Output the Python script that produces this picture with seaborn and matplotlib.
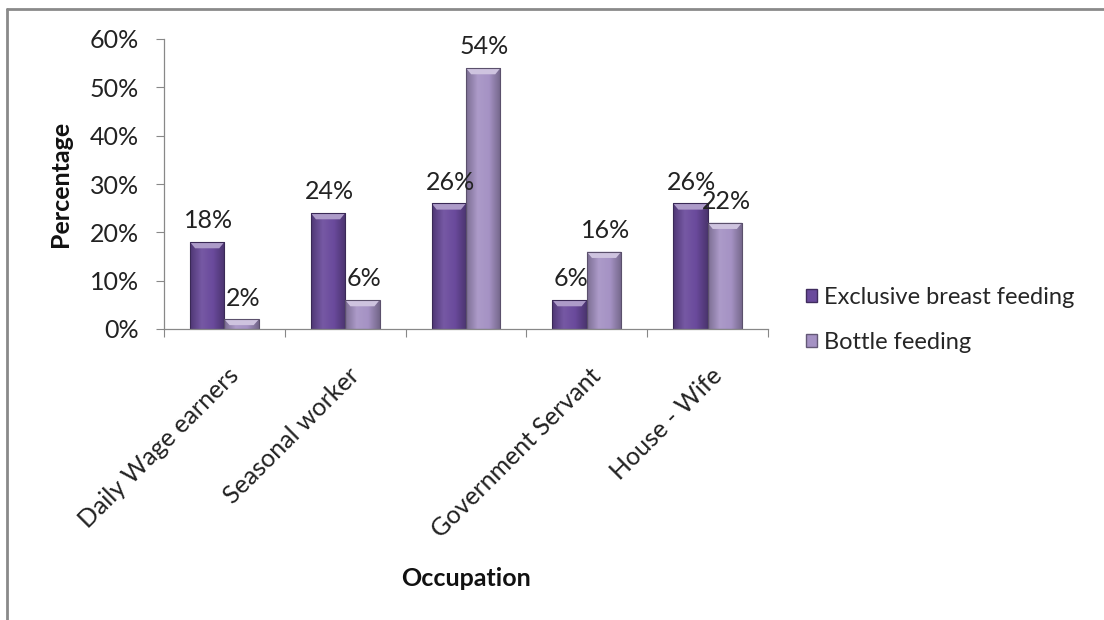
import numpy as np
import pandas as pd
import matplotlib
matplotlib.use("Agg")
import matplotlib.pyplot as plt
import seaborn as sns
from matplotlib.colors import LinearSegmentedColormap
from matplotlib.patches import Rectangle, Polygon
from matplotlib.lines import Line2D

categories = ["Daily Wage earners", "Seasonal worker", "", "Government Servant", "House - Wife"]
series_names = ["Exclusive breast feeding", "Bottle feeding"]
exclusive_bf = [18, 24, 26, 6, 26]
bottle_f = [2, 6, 54, 16, 22]
ytick_vals = [0, 10, 20, 30, 40, 50, 60]

sns.set_theme(style="white")
plt.rcParams["font.family"] = ["Lato", "DejaVu Sans"]

FS = 18
dark = "#6A4A9C"
light = "#A592C4"

rows = []
for i, c in enumerate(categories):
    rows.append({"cat": i, "series": series_names[0], "val": exclusive_bf[i]})
    rows.append({"cat": i, "series": series_names[1], "val": bottle_f[i]})
df = pd.DataFrame(rows)

fig = plt.figure(figsize=(11.04, 6.2), dpi=100)
ax = fig.add_axes([164/1104, 1-329/620, (768-164)/1104, (329-39)/620])

sns.barplot(data=df, x="cat", y="val", hue="series", hue_order=series_names,
            palette=[dark, light], width=0.57, gap=0, ax=ax, legend=False,
            edgecolor="none", saturation=1, linewidth=0)

def shade(c, f):
    rgb = np.array(matplotlib.colors.to_rgb(c))
    if f >= 0:
        return tuple(rgb + (1 - rgb) * f)
    return tuple(rgb * (1 + f))

# gradient overlay per bar
for cont, col in zip(ax.containers, [dark, light]):
    cmap = LinearSegmentedColormap.from_list(
        "g", [shade(col, -0.25), shade(col, 0.08), shade(col, 0.0), shade(col, -0.3)])
    for p in cont.patches:
        x0, y0 = p.get_x(), p.get_y()
        w, h = p.get_width(), p.get_height()
        grad = np.linspace(0, 1, 64).reshape(1, -1)
        im = ax.imshow(grad, extent=[x0, x0 + w, y0, y0 + h], cmap=cmap,
                       aspect="auto", zorder=p.get_zorder() + 0.1, origin="lower")
        im.set_clip_path(p)
        # top bevel highlight (trapezoid)
        bev = min(1.3, h * 0.6)
        ax.add_patch(Polygon([(x0, y0 + h), (x0 + w, y0 + h),
                              (x0 + w * 0.85, y0 + h - bev), (x0 + w * 0.15, y0 + h - bev)],
                             closed=True, facecolor=shade(col, 0.45), edgecolor="none",
                             zorder=p.get_zorder() + 0.2))
        ax.add_patch(Rectangle((x0, y0), w, h, facecolor="none",
                               edgecolor=shade(col, -0.45), linewidth=0.8,
                               zorder=p.get_zorder() + 0.3))

ax.set_xlim(-0.5, len(categories) - 0.5)
ax.set_ylim(0, 60)
ax.set_yticks(ytick_vals)
ax.set_yticklabels([f"{v}%" for v in ytick_vals], fontsize=FS, color="#222222")
ax.set_xticks(np.arange(-0.5, len(categories), 1.0))
ax.set_xticklabels([])
ax.tick_params(axis="y", length=6, width=0.8, color="#888888", pad=12, direction="out", left=True)
ax.tick_params(axis="x", length=6, width=0.8, color="#888888", direction="out", bottom=True)

# category labels rotated 45
for i, c in enumerate(categories):
    if c:
        ax.text(i + 0.02, -0.12, c, transform=ax.get_xaxis_transform(),
                rotation=45, ha="right", va="top", rotation_mode="anchor",
                fontsize=FS, color="#222222")

for s in ["top", "right"]:
    ax.spines[s].set_visible(False)
for s in ["left", "bottom"]:
    ax.spines[s].set_color("#888888")
    ax.spines[s].set_linewidth(0.9)

ax.set_ylabel("")
ax.set_xlabel("")
fig.text(61/1104, 1-184/620, "Percentage", fontsize=FS, fontweight="bold",
         rotation=90, ha="center", va="center", color="#111111")
fig.text(466/1104, 1-578/620, "Occupation", fontsize=FS, fontweight="bold",
         ha="center", va="center", color="#111111")

# data labels
for cont in ax.containers:
    for p in cont.patches:
        h = p.get_height()
        ax.annotate(f"{h:.0f}%", (p.get_x() + p.get_width()/2, h),
                    xytext=(1, 7), textcoords="offset points",
                    ha="center", va="bottom", fontsize=FS, color="#222222", zorder=10)

handles = [Rectangle((0, 0), 1, 1, facecolor=dark, edgecolor=shade(dark, -0.4)),
           Rectangle((0, 0), 1, 1, facecolor=light, edgecolor=shade(light, -0.4))]
fig.legend(handles, series_names, loc="center left", bbox_to_anchor=(806/1104, 1-320/620),
           frameon=False, fontsize=17, handlelength=0.45, handleheight=0.45,
           handletextpad=0.3, labelspacing=1.0, borderaxespad=0, borderpad=0)

# outer frame (top and left only)
fig.add_artist(Line2D([7/1104, 1], [1-9/620, 1-9/620], transform=fig.transFigure,
                      color="#8a8a8a", linewidth=2))
fig.add_artist(Line2D([7/1104, 7/1104], [0, 1-9/620], transform=fig.transFigure,
                      color="#8a8a8a", linewidth=2))

fig.savefig("out.png", dpi=100)
